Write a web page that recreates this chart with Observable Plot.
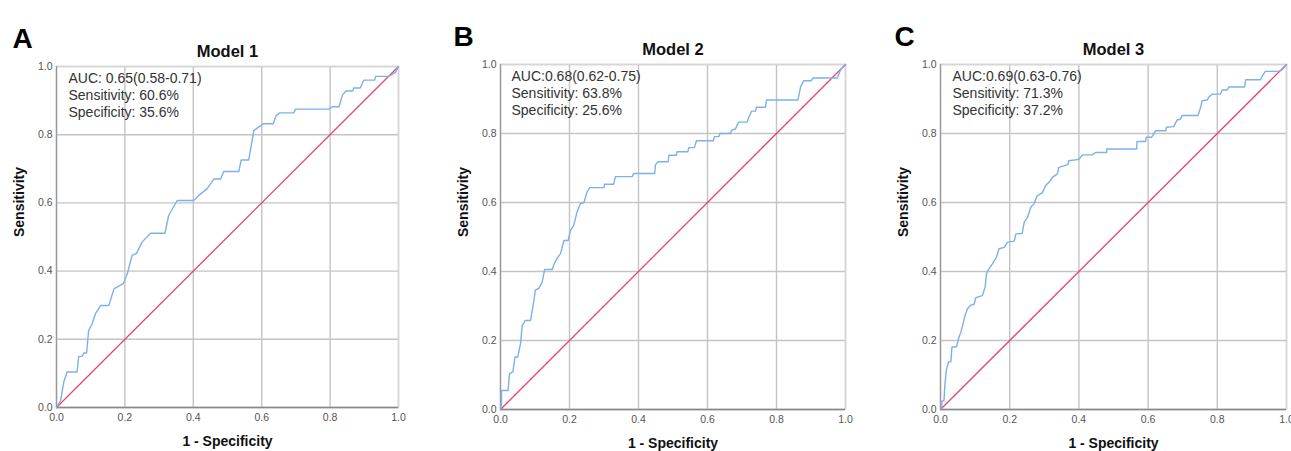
<!DOCTYPE html>
<html>
<head>
<meta charset="utf-8">
<script src="https://cdn.jsdelivr.net/npm/d3@7"></script>
<script src="https://cdn.jsdelivr.net/npm/@observablehq/plot@0.6"></script>
<style>
  body { margin: 0; background: #fff; width: 1291px; height: 451px; overflow: hidden; position: relative; font-family: "Liberation Sans", Arial, sans-serif; }
  .panel { position: absolute; top: 0; }
  .panel svg { overflow: visible; }
</style>
</head>
<body>
<div id="pA" class="panel" style="left:0px"></div>
<div id="pB" class="panel" style="left:440px"></div>
<div id="pC" class="panel" style="left:880px"></div>
<script>
// ---- Data (1 - specificity, sensitivity) ----
const panelLetters = ["A", "B", "C"];
const modelTitles = ["Model 1", "Model 2", "Model 3"];
const aucTexts = [
  "AUC: 0.65(0.58-0.71)\nSensitivity: 60.6%\nSpecificity: 35.6%",
  "AUC:0.68(0.62-0.75)\nSensitivity: 63.8%\nSpecificity: 25.6%",
  "AUC:0.69(0.63-0.76)\nSensitivity: 71.3%\nSpecificity: 37.2%"
];
const tickValues = [0, 0.2, 0.4, 0.6, 0.8, 1.0];
const diagonal = [0, 1];

const model1Fpr = [0, 0.012, 0.021, 0.031, 0.060, 0.065, 0.075, 0.080, 0.088, 0.094, 0.104, 0.114, 0.129, 0.153, 0.168, 0.195, 0.207, 0.221, 0.234, 0.250, 0.275, 0.317, 0.328, 0.353, 0.401, 0.416, 0.440, 0.460, 0.480, 0.489, 0.533, 0.540, 0.562, 0.577, 0.592, 0.604, 0.634, 0.642, 0.653, 0.694, 0.699, 0.796, 0.806, 0.826, 0.836, 0.846, 0.866, 0.869, 0.888, 0.894, 0.899, 0.930, 0.933, 0.972, 0.991, 1.0];
const model1Tpr = [0, 0.020, 0.074, 0.104, 0.104, 0.150, 0.150, 0.160, 0.160, 0.226, 0.245, 0.275, 0.299, 0.299, 0.348, 0.363, 0.392, 0.446, 0.452, 0.485, 0.511, 0.511, 0.563, 0.607, 0.607, 0.622, 0.641, 0.670, 0.670, 0.692, 0.692, 0.726, 0.726, 0.812, 0.823, 0.832, 0.832, 0.856, 0.864, 0.864, 0.875, 0.875, 0.882, 0.882, 0.916, 0.928, 0.928, 0.937, 0.937, 0.951, 0.960, 0.960, 0.971, 0.971, 0.983, 1.0];

const model2Fpr = [0, 0.003, 0.003, 0.022, 0.026, 0.036, 0.042, 0.050, 0.058, 0.063, 0.072, 0.087, 0.097, 0.101, 0.112, 0.121, 0.128, 0.150, 0.155, 0.164, 0.174, 0.184, 0.196, 0.203, 0.212, 0.222, 0.232, 0.242, 0.251, 0.259, 0.300, 0.301, 0.328, 0.333, 0.382, 0.386, 0.447, 0.449, 0.457, 0.486, 0.488, 0.510, 0.512, 0.543, 0.546, 0.562, 0.568, 0.617, 0.620, 0.633, 0.636, 0.665, 0.672, 0.681, 0.686, 0.691, 0.715, 0.720, 0.728, 0.739, 0.742, 0.768, 0.771, 0.862, 0.870, 0.879, 0.901, 0.906, 0.976, 0.986, 1.0];
const model2Tpr = [0, 0.020, 0.055, 0.055, 0.104, 0.109, 0.152, 0.152, 0.191, 0.244, 0.258, 0.258, 0.317, 0.346, 0.352, 0.370, 0.406, 0.406, 0.421, 0.438, 0.452, 0.490, 0.490, 0.519, 0.533, 0.573, 0.597, 0.600, 0.631, 0.643, 0.643, 0.653, 0.653, 0.675, 0.675, 0.684, 0.684, 0.709, 0.718, 0.718, 0.737, 0.737, 0.747, 0.747, 0.759, 0.759, 0.779, 0.779, 0.791, 0.791, 0.800, 0.800, 0.811, 0.813, 0.825, 0.833, 0.833, 0.847, 0.865, 0.865, 0.876, 0.876, 0.897, 0.897, 0.936, 0.953, 0.953, 0.961, 0.961, 0.985, 1.0];

const model3Fpr = [0, 0.004, 0.004, 0.010, 0.013, 0.017, 0.023, 0.030, 0.033, 0.046, 0.052, 0.059, 0.064, 0.071, 0.078, 0.087, 0.097, 0.102, 0.121, 0.129, 0.133, 0.140, 0.150, 0.162, 0.169, 0.184, 0.194, 0.213, 0.218, 0.236, 0.242, 0.251, 0.261, 0.270, 0.280, 0.294, 0.304, 0.318, 0.323, 0.338, 0.342, 0.368, 0.371, 0.400, 0.410, 0.438, 0.448, 0.480, 0.481, 0.567, 0.568, 0.593, 0.594, 0.610, 0.617, 0.622, 0.651, 0.653, 0.674, 0.679, 0.684, 0.694, 0.698, 0.744, 0.752, 0.756, 0.771, 0.775, 0.785, 0.809, 0.814, 0.829, 0.833, 0.879, 0.882, 0.925, 0.930, 0.939, 0.977, 0.988, 1.0];
const model3Tpr = [0, 0.008, 0.025, 0.025, 0.075, 0.114, 0.138, 0.138, 0.181, 0.181, 0.205, 0.225, 0.244, 0.273, 0.292, 0.302, 0.305, 0.324, 0.330, 0.355, 0.394, 0.408, 0.422, 0.442, 0.466, 0.470, 0.485, 0.488, 0.509, 0.510, 0.543, 0.556, 0.586, 0.596, 0.620, 0.628, 0.649, 0.664, 0.673, 0.683, 0.702, 0.710, 0.721, 0.725, 0.738, 0.738, 0.745, 0.745, 0.755, 0.755, 0.777, 0.777, 0.789, 0.789, 0.800, 0.808, 0.808, 0.818, 0.820, 0.830, 0.839, 0.842, 0.852, 0.852, 0.876, 0.895, 0.897, 0.905, 0.914, 0.914, 0.926, 0.926, 0.935, 0.935, 0.956, 0.956, 0.967, 0.980, 0.980, 0.985, 1.0];

const fprs = [model1Fpr, model2Fpr, model3Fpr];
const tprs = [model1Tpr, model2Tpr, model3Tpr];

// layout per panel (SVG geometry only)
const layouts = [
  {id: "pA", width: 430, ml: 56, mr: 32, mt: 66, mb: 44, aucDx: 12},
  {id: "pB", width: 430, ml: 60, mr: 25, mt: 64, mb: 42, aucDx: 11},
  {id: "pC", width: 411, ml: 60, mr: 5,  mt: 64, mb: 42, aucDx: 12}
];

const FONT = "Liberation Sans, Arial, sans-serif";

layouts.forEach((L, i) => {
  const pts = fprs[i].map((x, k) => ({x, y: tprs[i][k]}));
  const diag = diagonal.map(v => ({x: v, y: v}));
  const chart = Plot.plot({
    width: L.width,
    height: 451,
    marginLeft: L.ml, marginRight: L.mr, marginTop: L.mt, marginBottom: L.mb,
    style: {fontFamily: FONT, background: "#fff", overflow: "visible"},
    x: {domain: [0, 1]},
    y: {domain: [0, 1]},
    marks: [
      Plot.gridX(tickValues, {stroke: "#c4c4c4", strokeOpacity: 1, strokeWidth: 1.4}),
      Plot.gridY(tickValues, {stroke: "#c4c4c4", strokeOpacity: 1, strokeWidth: 1.4}),
      Plot.frame({stroke: "#d6d6d6", strokeWidth: 1.4}),
      Plot.ruleY([0], {stroke: "#888", strokeWidth: 1.5}),
      Plot.ruleX([0], {stroke: "#999", strokeWidth: 1.2}),
      Plot.axisX(tickValues, {tickFormat: d3.format(".1f"), tickSize: 0, tickPadding: 6, fontSize: 10.5, fill: "#555", label: null}),
      Plot.axisY(tickValues, {tickFormat: d3.format(".1f"), tickSize: 0, tickPadding: 4, fontSize: 10.5, fill: "#555", label: null}),
      Plot.line(diag, {x: "x", y: "y", stroke: "#e3466f", strokeWidth: 1.3}),
      Plot.line(pts, {x: "x", y: "y", stroke: "#7eb0ea", strokeWidth: 1.4}),
      Plot.text([aucTexts[i]], {frameAnchor: "top-left", dx: L.aucDx, dy: 4, lineAnchor: "top", textAnchor: "start", fontSize: 14, lineHeight: 1.22, fill: "#333"}),
      Plot.text([modelTitles[i]], {frameAnchor: "top", dy: -21, fontSize: 16.5, fontWeight: "bold", fill: "#111"}),
      Plot.text([panelLetters[i]], {frameAnchor: "top-left", dx: (i === 0 ? 12 : (i === 1 ? 13 : 14)) - L.ml, dy: -38, textAnchor: "start", fontSize: 28, fontWeight: "bold", fill: "#000"}),
      Plot.text(["1 - Specificity"], {frameAnchor: "bottom", dy: 38, fontSize: 14, fontWeight: "bold", fill: "#111"}),
      Plot.text(["Sensitivity"], {frameAnchor: "left", dx: 19 - L.ml + (i === 0 ? 0 : 4), rotate: -90, fontSize: 14, fontWeight: "bold", fill: "#111"})
    ]
  });
  document.getElementById(L.id).appendChild(chart);
});
</script>
</body>
</html>
